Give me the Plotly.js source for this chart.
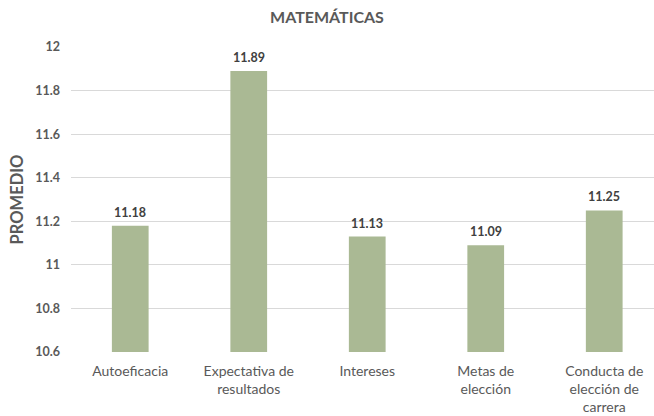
<!DOCTYPE html>
<html><head><meta charset="utf-8">
<script src="https://cdn.plot.ly/plotly-3.0.1.min.js"></script>
<style>html,body{margin:0;padding:0;background:#fff}</style>
</head><body>
<div id="chart" style="width:654px;height:416px"></div>
<script>
const categories = ["Autoeficacia", "Expectativa de<br>resultados", "Intereses", "Metas de<br>elección", "Conducta de<br>elección de<br>carrera"];
const values = [11.18, 11.89, 11.13, 11.09, 11.25];
const valueLabels = ["11.18", "11.89", "11.13", "11.09", "11.25"];
const yTicks = [10.6, 10.8, 11, 11.2, 11.4, 11.6, 11.8, 12];
const yTickLabels = ["10.6", "10.8", "11", "11.2", "11.4", "11.6", "11.8", "12"];

const font = "Lato, 'Open Sans', sans-serif";
const gray = "#595959";

const annotations = categories.map((c, i) => ({
  x: c, y: values[i], text: "<b>" + valueLabels[i] + "</b>",
  showarrow: false, yanchor: "bottom", yshift: 4,
  font: {family: font, size: 12.5, color: "#404040"}
}));

Plotly.newPlot("chart", [{
  type: "bar",
  x: categories,
  y: values,
  marker: {color: "#AAB994"},
  hoverinfo: "skip"
}], {
  width: 654, height: 416,
  margin: {l: 71, r: 0, t: 47, b: 63.5},
  paper_bgcolor: "#fff", plot_bgcolor: "#fff",
  bargap: 0.69,
  showlegend: false,
  annotations: annotations,
  title: {text: "<b>MATEMÁTICAS</b>", x: 0.5, xanchor: "center", y: 0.957, yanchor: "middle",
          font: {family: font, size: 16, color: gray}},
  xaxis: {
    range: [-0.5, 4.42],
    tickfont: {family: font, size: 14, color: gray},
    showgrid: false, showline: false, ticks: "", zeroline: false,
    ticklabelstandoff: 9
  },
  yaxis: {
    range: [10.6, 12],
    tickvals: yTicks, ticktext: yTickLabels,
    tickfont: {family: font, size: 12.5, color: gray, weight: "bold"},
    showgrid: true, gridcolor: "#D9D9D9", gridwidth: 1,
    zeroline: false, showline: false, ticks: "",
    ticklabelstandoff: 10,
    title: {text: "<b>PROMEDIO</b>", font: {family: font, size: 16.5, color: gray}, standoff: 7}
  }
}, {displayModeBar: false, staticPlot: true});
</script>
</body></html>
